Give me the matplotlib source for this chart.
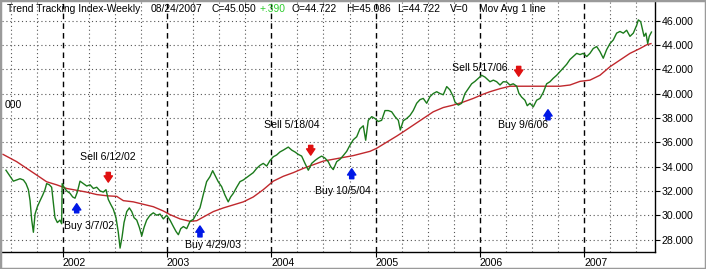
import matplotlib
matplotlib.use('Agg')
import matplotlib.pyplot as plt
from matplotlib.patches import Rectangle
from matplotlib.ticker import FixedLocator

# ---------------- data (decimal years, index values) ----------------
price_t = [2001.456, 2001.495, 2001.527, 2001.559, 2001.591, 2001.623, 2001.648, 2001.671, 2001.687, 2001.703,
           2001.719, 2001.735, 2001.757, 2001.783, 2001.808, 2001.830, 2001.846, 2001.872, 2001.894, 2001.926,
           2001.949, 2001.974, 2001.990, 2001.995, 2002.013, 2002.038, 2002.070, 2002.096, 2002.118, 2002.140,
           2002.166, 2002.198, 2002.230, 2002.262, 2002.294, 2002.326, 2002.358, 2002.389, 2002.415, 2002.437,
           2002.460, 2002.485, 2002.511, 2002.533, 2002.550, 2002.569, 2002.588, 2002.614, 2002.639, 2002.662,
           2002.684, 2002.710, 2002.735, 2002.758, 2002.780, 2002.805, 2002.837, 2002.869, 2002.901, 2002.933,
           2002.965, 2002.997, 2003.029, 2003.061, 2003.087, 2003.109, 2003.132, 2003.157, 2003.189, 2003.221,
           2003.253, 2003.285, 2003.316, 2003.348, 2003.380, 2003.412, 2003.438, 2003.459, 2003.491, 2003.524,
           2003.555, 2003.587, 2003.610, 2003.636, 2003.668, 2003.700, 2003.732, 2003.764, 2003.796, 2003.827,
           2003.860, 2003.892, 2003.923, 2003.956, 2003.988, 2004.019, 2004.051, 2004.083, 2004.115, 2004.163,
           2004.196, 2004.227, 2004.259, 2004.291, 2004.323, 2004.355, 2004.387, 2004.419, 2004.451, 2004.482,
           2004.514, 2004.546, 2004.569, 2004.594, 2004.627, 2004.659, 2004.690, 2004.723, 2004.755, 2004.786,
           2004.819, 2004.850, 2004.882, 2004.905, 2004.930, 2004.963, 2004.994, 2005.026, 2005.058, 2005.090,
           2005.122, 2005.154, 2005.186, 2005.218, 2005.237, 2005.265, 2005.298, 2005.330, 2005.361, 2005.394,
           2005.426, 2005.457, 2005.490, 2005.521, 2005.553, 2005.586, 2005.617, 2005.649, 2005.682, 2005.713,
           2005.745, 2005.761, 2005.793, 2005.825, 2005.857, 2005.889, 2005.921, 2005.953, 2005.985, 2006.017,
           2006.049, 2006.097, 2006.129, 2006.161, 2006.193, 2006.224, 2006.257, 2006.288, 2006.320, 2006.353,
           2006.375, 2006.401, 2006.432, 2006.454, 2006.480, 2006.512, 2006.544, 2006.576, 2006.608, 2006.640,
           2006.672, 2006.703, 2006.736, 2006.768, 2006.799, 2006.832, 2006.864, 2006.896, 2006.928, 2006.960,
           2006.991, 2007.024, 2007.055, 2007.087, 2007.120, 2007.151, 2007.183, 2007.215, 2007.247, 2007.279,
           2007.311, 2007.343, 2007.375, 2007.407, 2007.439, 2007.471, 2007.503, 2007.519, 2007.542, 2007.561,
           2007.574, 2007.592, 2007.609, 2007.624, 2007.645]
price_v = [33.7, 33.2, 32.8, 32.9, 33.0, 32.9, 32.6, 32.1, 31.2, 29.6,
           28.6, 30.1, 30.7, 31.2, 31.65, 32.1, 32.6, 32.5, 32.3, 29.8,
           29.4, 29.6, 29.3, 32.6, 32.3, 32.0, 31.8, 31.5, 31.4, 31.9,
           32.8, 32.6, 32.4, 32.5, 32.2, 32.3, 32.0, 31.9, 32.1, 31.3,
           30.9, 30.5, 29.8, 28.6, 27.3, 28.2, 29.4, 30.3, 30.6, 30.3,
           29.8, 29.6, 29.0, 28.3, 29.0, 29.6, 30.0, 30.2, 30.0, 30.1,
           29.7, 30.0, 29.6, 29.07, 28.66, 28.4, 28.9, 29.07, 28.9, 29.5,
           29.67, 30.16, 30.6, 31.7, 32.76, 33.17, 33.66, 33.3, 32.76, 32.35,
           31.67, 31.1, 31.5, 31.8, 32.3, 32.76, 32.9, 33.1, 33.3, 33.5,
           33.85, 34.1, 34.26, 34.04, 34.5, 34.8, 34.95, 35.2, 35.35, 35.6,
           35.35, 35.2, 35.0, 34.86, 34.26, 33.7, 34.26, 34.5, 34.7, 34.86,
           34.7, 34.4, 34.0, 33.75, 34.4, 34.6, 34.9, 35.25, 35.77, 36.2,
           36.45, 37.1, 37.35, 36.16, 37.8, 38.1, 37.95, 37.7, 37.8, 38.6,
           38.6, 38.5, 38.1, 37.8, 37.0, 37.76, 37.95, 38.2, 38.6, 39.2,
           39.5, 39.6, 39.2, 39.74, 40.0, 40.15, 40.0, 39.9, 40.57, 40.3,
           39.74, 39.3, 39.05, 39.2, 40.0, 40.4, 40.8, 41.0, 41.25, 41.5,
           41.35, 40.97, 41.1, 40.97, 40.7, 40.97, 40.95, 40.7, 40.8, 40.6,
           40.0, 39.7, 39.45, 39.0, 39.2, 38.9, 39.45, 39.6, 40.1, 40.8,
           40.97, 41.25, 41.5, 41.8, 42.1, 42.4, 42.8, 43.05, 43.3, 43.2,
           43.3, 43.04, 43.3, 43.7, 43.86, 43.45, 42.9, 43.6, 44.1, 44.4,
           44.96, 45.1, 44.96, 45.2, 44.7, 44.96, 45.6, 46.05, 45.9, 45.2,
           44.7, 44.96, 44.1, 44.7, 45.05]

ma_t = [2001.428, 2001.559, 2001.655, 2001.751, 2001.846, 2001.942, 2002.038, 2002.134, 2002.230, 2002.326,
        2002.422, 2002.518, 2002.581, 2002.677, 2002.773, 2002.869, 2002.965, 2003.029, 2003.125, 2003.221,
        2003.285, 2003.348, 2003.444, 2003.540, 2003.636, 2003.732, 2003.827, 2003.923, 2004.019, 2004.115,
        2004.211, 2004.307, 2004.403, 2004.499, 2004.627, 2004.786, 2004.946, 2005.010, 2005.106, 2005.202,
        2005.265, 2005.361, 2005.457, 2005.553, 2005.649, 2005.745, 2005.841, 2005.937, 2006.033, 2006.097,
        2006.193, 2006.288, 2006.480, 2006.672, 2006.768, 2006.864, 2006.960, 2007.055, 2007.151, 2007.247,
        2007.343, 2007.439, 2007.535, 2007.599, 2007.640]
ma_v = [35.0, 34.4, 33.85, 33.3, 32.75, 32.5, 32.2, 32.05, 31.9, 31.7,
        31.6, 31.55, 31.2, 31.1, 30.9, 30.7, 30.35, 30.05, 29.7, 29.5,
        29.55, 29.85, 30.3, 30.6, 30.85, 31.1, 31.5, 32.1, 32.8, 33.2,
        33.5, 33.85, 34.15, 34.45, 34.65, 34.9, 35.25, 35.5, 36.0, 36.5,
        36.85, 37.4, 37.95, 38.5, 38.85, 39.05, 39.3, 39.6, 39.95, 40.15,
        40.4, 40.6, 40.6, 40.6, 40.6, 40.7, 41.0, 41.1, 41.5, 42.2,
        42.75, 43.3, 43.7, 44.0, 44.1]

# signals
signal_labels = ['Buy 3/7/02', 'Sell 6/12/02', 'Buy 4/29/03', 'Sell 5/18/04', 'Buy 10/5/04', 'Sell 5/17/06', 'Buy 9/6/06']
signal_kind = ['buy', 'sell', 'buy', 'sell', 'buy', 'sell', 'buy']
arrow_t = [2002.134, 2002.437, 2003.316, 2004.378, 2004.771, 2006.372, 2006.653]
arrow_tail = [30.20, 33.52, 28.22, 35.74, 33.00, 42.23, 37.84]
arrow_tip = [30.95, 32.72, 29.12, 34.94, 33.82, 41.42, 38.67]
label_t = [2002.012, 2002.166, 2003.173, 2003.930, 2004.419, 2005.732, 2006.173]
label_v = [29.11, 34.78, 27.55, 37.41, 31.99, 42.10, 37.41]

year_ticks = [2002, 2003, 2004, 2005, 2006, 2007]
year_labels = ['2002', '2003', '2004', '2005', '2006', '2007']
y_ticks = [28, 30, 32, 34, 36, 38, 40, 42, 44, 46]

# ---------------- figure ----------------
W, H = 706, 269
plt.rcParams['font.family'] = ['Liberation Sans', 'DejaVu Sans']
FS = 7.6
fig = plt.figure(figsize=(W / 100, H / 100), dpi=100)
fig.patch.set_facecolor('white')

ax = fig.add_axes([2 / W, 1 - 252 / H, (655 - 2) / W, (252 - 2) / H])
ax.set_xlim(2001.418, 2007.679)
ax.set_ylim(26.98, 47.52)

quarters = [y + q for y in range(2001, 2008) for q in (0.25, 0.5, 0.75)]
ax.xaxis.set_minor_locator(FixedLocator(quarters))
ax.set_xticks(year_ticks)
ax.set_xticklabels(year_labels, ha='left', fontsize=FS)
ax.grid(which='minor', axis='x', linestyle=(0, (1, 2.5)), color='#555555', lw=0.8)
ax.grid(which='major', axis='x', linestyle=(0, (4, 3)), color='black', lw=1.0)
ax.set_yticks(y_ticks)
ax.set_yticklabels([f'{v:.3f}' for v in y_ticks], fontsize=FS)
ax.grid(which='major', axis='y', linestyle=(0, (1, 2.5)), color='#555555', lw=0.8)
ax.set_axisbelow(True)
ax.yaxis.tick_right()
ax.tick_params(axis='x', which='major', length=3.6, width=0.8, pad=1, direction='out')
ax.tick_params(axis='x', which='minor', length=0)
ax.tick_params(axis='y', length=3.6, width=0.8, pad=1, direction='out')
for s in ('left', 'top'):
    ax.spines[s].set_visible(False)
for s in ('right', 'bottom'):
    ax.spines[s].set_color('black')
    ax.spines[s].set_linewidth(1.0)

ax.plot(ma_t, ma_v, color='#c0282d', lw=1.0, zorder=3)
ax.plot(price_t, price_v, color='#1b7a1b', lw=1.0, zorder=4)

for lab, kind, at, a0, a1, lt, lv in zip(signal_labels, signal_kind, arrow_t, arrow_tail,
                                          arrow_tip, label_t, label_v):
    col = '#0018e6' if kind == 'buy' else '#e01010'
    ax.annotate('', xy=(at, a1), xytext=(at, a0),
                arrowprops=dict(arrowstyle='simple,head_length=0.45,head_width=0.6,tail_width=0.3',
                                color=col, shrinkA=0, shrinkB=0, mutation_scale=10), zorder=5)
    ax.text(lt, lv, lab, fontsize=FS, ha='left', va='center', color='black', zorder=6)

def ftext(x, y, s, size=FS, **kw):
    fig.text(x / W, 1 - y / H, s, fontsize=size, va='center', ha='left', **kw)

hy = 9.5
HF = 7.4
ftext(7, hy, 'Trend Tracking Index-Weekly', HF)
ftext(151, hy, '08/24/2007', HF)
ftext(211, hy, 'C=45.050', HF)
ftext(260, hy, '+.390', HF, color='#2ecc2e')
ftext(292, hy, 'O=44.722', HF)
ftext(346, hy, 'H=45.086', HF)
ftext(397, hy, 'L=44.722', HF)
ftext(450, hy, 'V=0', HF)
ftext(479, hy, 'Mov Avg 1 line', HF)
ftext(5, 104.5, '000')

fig.patches.append(Rectangle((0, 0), 1, 1, transform=fig.transFigure, fill=False,
                             edgecolor='#9a9a9a', lw=2.5))

fig.savefig('out.png', dpi=100)
